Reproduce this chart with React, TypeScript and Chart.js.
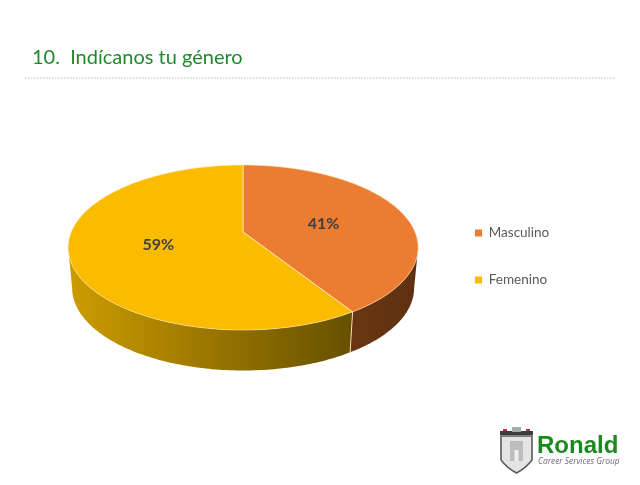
import React, { useEffect, useRef } from "react";
import { Chart, registerables } from "chart.js";

Chart.register(...registerables);

const categories = ["Masculino", "Femenino"];
const values = [41, 59];
const sliceColors = ["#EB7C31", "#FBBB00"];
const titleText = "10.  Indícanos tu género";

const SQUASH = 82.5 / 175; // flattening of the pie
const TILT = 0.188; // perspective shift of the apex
const DEPTH = 40.5;
const BOTTOM_SCALE = 0.977;

function project(arc: any, frac: number, angle: number, lower = false) {
  const u = frac * Math.cos(angle);
  const v = frac * Math.sin(angle);
  const d = 1 - TILT * v;
  const X = (u * Math.sqrt(1 - TILT * TILT)) / d;
  const Y = (v - TILT) / d;
  const rx = arc.outerRadius * (lower ? BOTTOM_SCALE : 1);
  const ry = arc.outerRadius * SQUASH;
  return { x: arc.x + X * rx, y: arc.y + Y * ry + (lower ? DEPTH : 0), Y };
}

function rimAngles(start: number, end: number) {
  const n = Math.max(8, Math.ceil((end - start) * 60));
  const out: number[] = [];
  for (let i = 0; i <= n; i++) out.push(start + ((end - start) * i) / n);
  return out;
}

const pie3d = {
  id: "pie3d",
  afterLayout(chart: any) {
    const legend = chart.legend;
    legend.left = 441.5;
    legend.top = 192.75;
  },
  beforeDraw(chart: any) {
    const ctx = chart.ctx;
    ctx.save();
    ctx.strokeStyle = "#BDBDBD";
    ctx.lineWidth = 1.2;
    ctx.setLineDash([1.5, 1.5]);
    ctx.beginPath();
    ctx.moveTo(25, 78);
    ctx.lineTo(615, 78);
    ctx.stroke();
    ctx.restore();
  },
  beforeDatasetDraw(chart: any) {
    const ctx = chart.ctx;
    const arcs = chart.getDatasetMeta(0).data;
    ctx.save();

    // side walls
    arcs.forEach((arc: any, i: number) => {
      const pts = rimAngles(arc.startAngle, arc.endAngle).filter(
        (t) => project(arc, 1, t).Y >= 0
      );
      if (pts.length < 2) return;
      ctx.beginPath();
      pts.forEach((t, k) => {
        const p = project(arc, 1, t);
        k ? ctx.lineTo(p.x, p.y) : ctx.moveTo(p.x, p.y);
      });
      pts
        .slice()
        .reverse()
        .forEach((t) => {
          const q = project(arc, 1, t, true);
          ctx.lineTo(q.x, q.y);
        });
      ctx.closePath();
      const xs = pts.map((t) => project(arc, 1, t).x);
      const g = ctx.createLinearGradient(Math.min(...xs), 0, Math.max(...xs), 0);
      if (i === 0) {
        g.addColorStop(0, "#6A3612");
        g.addColorStop(1, "#5E300F");
      } else {
        g.addColorStop(0, "#CD9C00");
        g.addColorStop(1, "#665000");
      }
      ctx.fillStyle = g;
      ctx.fill();
    });

    // seam on the wall
    const seam = arcs[0].endAngle;
    const a = project(arcs[0], 1, seam);
    const b = project(arcs[0], 1, seam, true);
    ctx.strokeStyle = "rgba(255,240,205,0.85)";
    ctx.lineWidth = 1;
    ctx.beginPath();
    ctx.moveTo(a.x, a.y);
    ctx.lineTo(b.x, b.y);
    ctx.stroke();

    // top faces
    arcs.forEach((arc: any, i: number) => {
      ctx.beginPath();
      const c = project(arc, 0, 0);
      ctx.moveTo(c.x, c.y);
      rimAngles(arc.startAngle, arc.endAngle).forEach((t) => {
        const p = project(arc, 1, t);
        ctx.lineTo(p.x, p.y);
      });
      ctx.closePath();
      ctx.fillStyle = sliceColors[i];
      ctx.fill();
    });
    arcs.forEach((arc: any) => {
      ctx.beginPath();
      const c = project(arc, 0, 0);
      ctx.moveTo(c.x, c.y);
      rimAngles(arc.startAngle, arc.endAngle).forEach((t) => {
        const p = project(arc, 1, t);
        ctx.lineTo(p.x, p.y);
      });
      ctx.closePath();
      ctx.strokeStyle = "rgba(255,236,190,0.7)";
      ctx.lineWidth = 0.8;
      ctx.stroke();
    });

    // value labels
    ctx.font = "bold 16px Lato";
    ctx.fillStyle = "#404040";
    ctx.textAlign = "center";
    ctx.textBaseline = "middle";
    arcs.forEach((arc: any, i: number) => {
      const p = project(arc, 0.5, (arc.startAngle + arc.endAngle) / 2);
      ctx.fillText(values[i] + "%", p.x, p.y + (i === 0 ? 3 : 1));
    });
    ctx.restore();
    return false;
  },
  afterDraw(chart: any) {
    const ctx = chart.ctx;
    ctx.save();
    // logo shield
    ctx.beginPath();
    ctx.moveTo(501, 436);
    ctx.lineTo(532, 436);
    ctx.lineTo(532, 460);
    ctx.quadraticCurveTo(526, 468, 516.5, 473);
    ctx.quadraticCurveTo(507, 468, 501, 460);
    ctx.closePath();
    ctx.fillStyle = "#E4E4E4";
    ctx.fill();
    ctx.strokeStyle = "#5A5A5A";
    ctx.lineWidth = 1.6;
    ctx.stroke();
    ctx.fillStyle = "#3C3C3C";
    ctx.fillRect(500, 431, 33, 4);
    ctx.fillStyle = "#A9A9A9";
    ctx.fillRect(512, 427, 9, 5);
    ctx.fillStyle = "#B03A30";
    ctx.fillRect(503, 429, 4, 2);
    ctx.fillRect(526, 429, 4, 2);
    ctx.fillStyle = "#BDBDBD";
    ctx.fillRect(510, 441, 13, 20);
    ctx.fillStyle = "#EFEFEF";
    ctx.fillRect(514.5, 450, 4, 11);
    // logo text
    ctx.textBaseline = "alphabetic";
    ctx.textAlign = "left";
    ctx.fillStyle = "#1B8A1E";
    ctx.font = "bold 24px 'Liberation Sans'";
    ctx.fillText("Ronald", 537, 453);
    ctx.fillStyle = "#6A6A78";
    ctx.font = "italic 8.4px 'Open Sans'";
    ctx.fillText("Career Services Group", 538, 464);
    ctx.restore();
  },
};

export default function App() {
  const ref = useRef<HTMLCanvasElement>(null);
  useEffect(() => {
    document.body.style.margin = "0";
    const chart = new Chart(ref.current!, {
      type: "pie",
      data: {
        labels: categories,
        datasets: [{ data: values, backgroundColor: sliceColors, borderWidth: 0 }],
      },
      options: {
        responsive: false,
        animation: false,
        layout: { padding: { left: 32, right: 68, top: 0, bottom: 62.5 } },
        plugins: {
          tooltip: { enabled: false },
          title: {
            display: true,
            text: titleText,
            align: "start",
            color: "#1F8A2B",
            font: { family: "Lato", size: 20, weight: "normal", lineHeight: 1.15 },
            padding: { top: 46, bottom: 3.5 },
          },
          legend: {
            display: true,
            position: "right",
            align: "start",
            labels: {
              boxWidth: 7,
              boxHeight: 7,
              padding: 33.5,
              color: "#595959",
              font: { family: "Lato", size: 13.5 },
            },
          },
        },
      },
      plugins: [pie3d],
    } as any);
    return () => chart.destroy();
  }, []);
  return <canvas ref={ref} width={640} height={485} style={{ display: "block" }} />;
}
